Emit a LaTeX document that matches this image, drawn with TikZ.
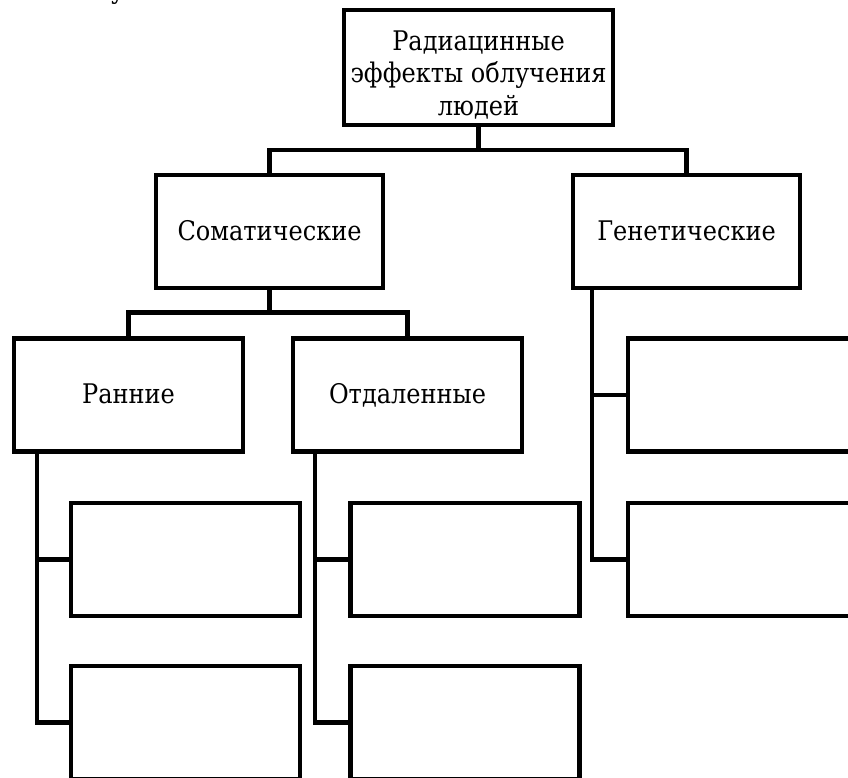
\documentclass[tikz,border=0pt]{standalone}
\usepackage{fontspec}
\setmainfont{DejaVu Serif}
\usepackage{tikz}
\usetikzlibrary{positioning,calc}
\newcommand{\squeezed}[1]{\scalebox{0.89}[1]{#1}}

\begin{document}
\begin{tikzpicture}[x=1pt,y=-1pt,
    block/.style={draw=black, line width=4.5pt, minimum width=229pt, minimum height=113pt,
      inner sep=0pt, font=\rmfamily\fontsize{27}{32.5}\selectfont, text height=20pt, text depth=3pt},
    caption/.style={inner sep=0pt, font=\rmfamily\fontsize{27}{32.5}\selectfont, align=center},
    link/.style={draw=black, line width=4.5pt}]
      \useasboundingbox (0,0) rectangle (848,778);

      % stray glyph cut by the top edge
      \node[caption, anchor=base] (cut) at (118,-1) {\squeezed{у}};

      % top level
      \node[block, minimum width=269pt, minimum height=115pt] (effects) at (478.5,67.5) {};
      \node[caption] (effectstext) at (478.5,75)
        {\squeezed{Радиацинные}\\\squeezed{эффекты облучения}\\\squeezed{людей}};

      % second level
      \node[block, minimum width=227pt] (somatic) at (269.5,231.5) {\squeezed{Соматические}};
      \node[block, minimum width=227pt] (genetic) at (686.5,231.5) {\squeezed{Генетические}};

      % third level
      \node[block] (early) at (128.5,395) {\squeezed{Ранние}};
      \node[block] (late) at (407.5,395) {\squeezed{Отдаленные}};
      \node[block] (gena) at (742.5,395) {};
      \node[block] (genb) at (742.5,559.5) {};

      % empty boxes
      \node[block] (earlya) at (185.5,559.5) {};
      \node[block] (earlyb) at (185.5,722.5) {};
      \node[block] (latea) at (465,559.5) {};
      \node[block] (lateb) at (465,722.5) {};

      % connectors
      \draw[link] (effects.south) -- ++(0,23) -| (somatic.north);
      \draw[link] (effects.south) -- ++(0,23) -| (genetic.north);
      \draw[link] (somatic.south) -- ++(0,22) -| (early.north);
      \draw[link] (somatic.south) -- ++(0,22) -| (late.north);

      \draw[link] ([xshift=25pt]early.south west) |- (earlya.west);
      \draw[link] ([xshift=25pt]early.south west) |- (earlyb.west);
      \draw[link] ([xshift=24pt]late.south west) |- (latea.west);
      \draw[link] ([xshift=24pt]late.south west) |- (lateb.west);
      \draw[link] ([xshift=21pt]genetic.south west) |- (gena.west);
      \draw[link] ([xshift=21pt]genetic.south west) |- (genb.west);
    \end{tikzpicture}
\end{document}
